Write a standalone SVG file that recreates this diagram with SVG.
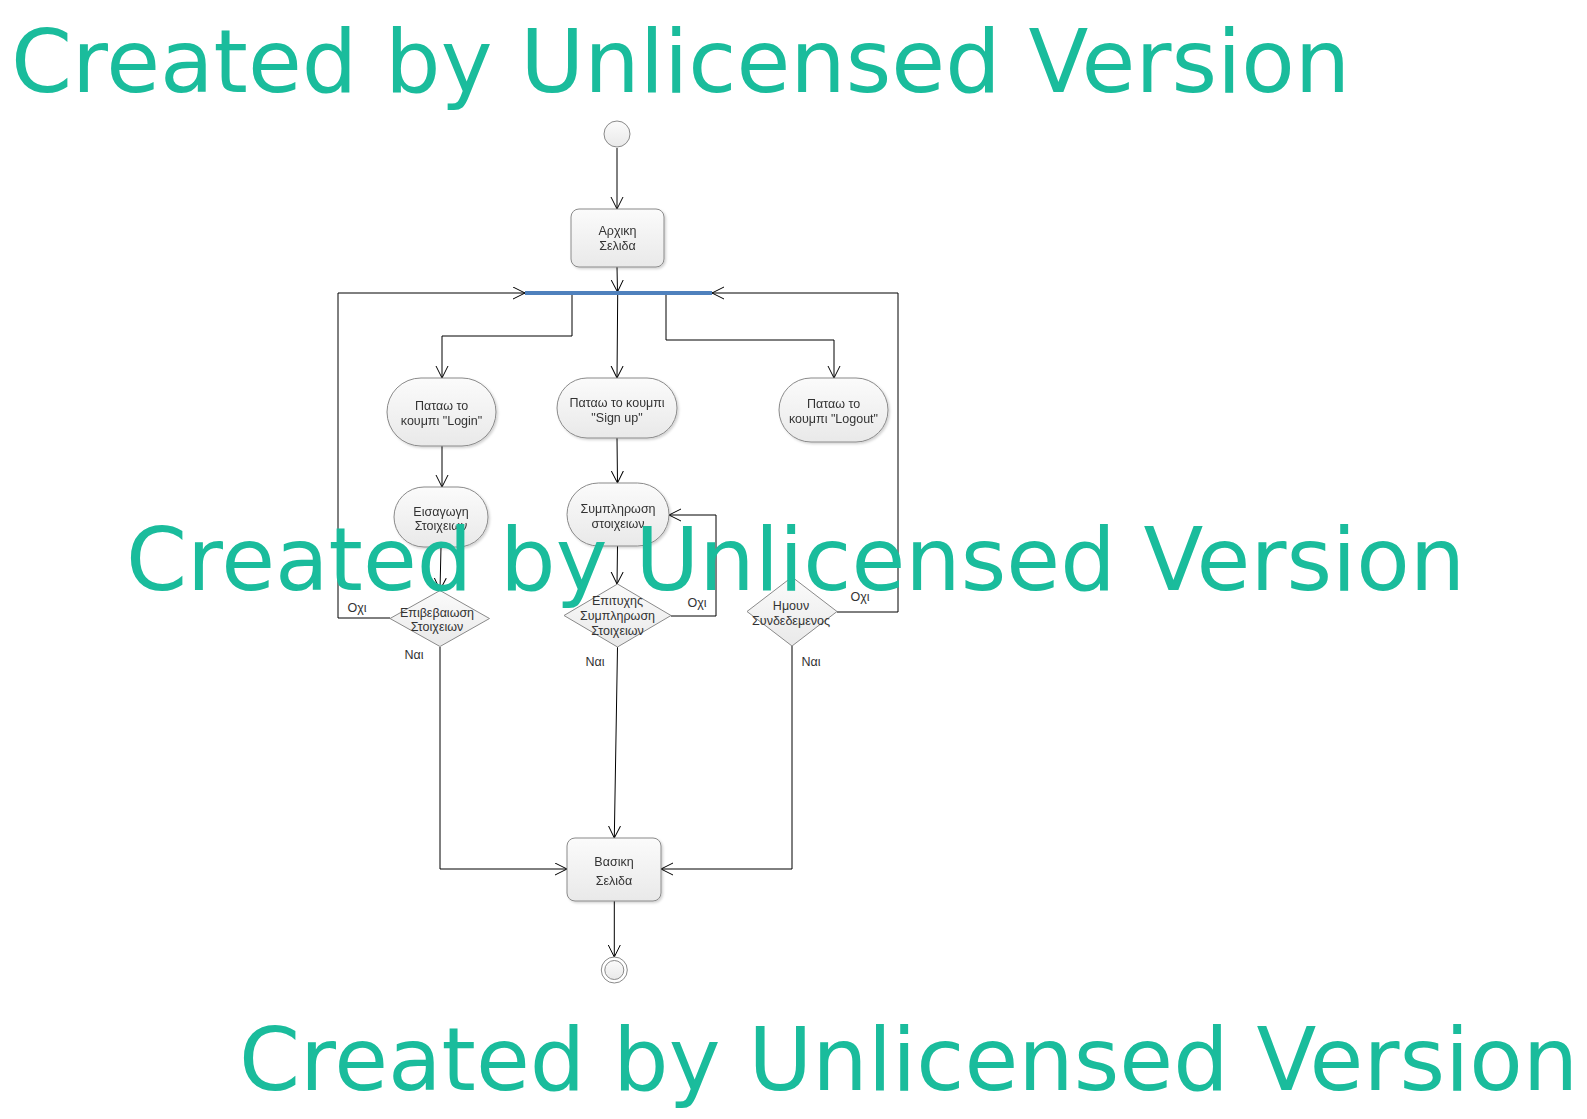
<svg xmlns="http://www.w3.org/2000/svg" width="1587" height="1119" viewBox="0 0 1587 1119">
<style>
.shape{stroke:#8a8a8a;stroke-width:1;fill:url(#g)}
.t{font-family:"Liberation Sans",Arial,sans-serif;font-size:12.5px;fill:#333;text-anchor:middle;dominant-baseline:central}
.lbl{font-family:"Liberation Sans",Arial,sans-serif;font-size:12.5px;fill:#333;text-anchor:middle;dominant-baseline:central}
.c{fill:none;stroke:#000;stroke-width:1;marker-end:url(#arr)}
.wm{font-family:"DejaVu Sans",sans-serif;font-size:87.5px;fill:#1ABC9C}
</style>
<defs>
<linearGradient id="g" x1="0" y1="0" x2="0" y2="1">
<stop offset="0" stop-color="#fbfbfb"/>
<stop offset="1" stop-color="#e9e9e9"/>
</linearGradient>
<filter id="sh" x="-10%" y="-10%" width="130%" height="130%">
<feDropShadow dx="1.5" dy="1.5" stdDeviation="1" flood-color="#000" flood-opacity="0.18"/>
</filter>
<marker id="arr" markerWidth="14" markerHeight="14" refX="12" refY="6.5" orient="auto" markerUnits="userSpaceOnUse">
<path d="M0,0.5 L12,6.5 L0,12.5" fill="none" stroke="#000" stroke-width="1"/>
</marker>
</defs>

<g id="connectors">
<path class="c" d="M617,148 L617,209"/>
<path class="c" d="M617,267 L617.5,292"/>
<path class="c" d="M572,295 L572,336 L442,336 L442,378"/>
<path class="c" d="M617.7,295 L617,378"/>
<path class="c" d="M666,295 L666,340 L834,340 L834,378"/>
<path class="c" d="M442,446 L442,487"/>
<path class="c" d="M441,547 L440,590"/>
<path class="c" d="M390,618 L338,618 L338,293 L525,293"/>
<path class="c" d="M440,647 L440,869 L567,869"/>
<path class="c" d="M617,438 L617.5,483"/>
<path class="c" d="M617.5,546 L617,584"/>
<path class="c" d="M671,616 L716,616 L716,515 L669,515"/>
<path class="c" d="M617.5,647 L614.3,838"/>
<path class="c" d="M837,612 L898,612 L898,293 L712,293"/>
<path class="c" d="M792,646 L792,869 L661,869"/>
<path class="c" d="M614.3,901 L614.3,957"/>
</g>

<g id="start"><circle cx="617" cy="134" r="13" class="shape"/></g>

<g id="arxiki" filter="url(#sh)">
<rect x="571" y="209" width="93" height="58" rx="8" class="shape"/>
<text class="t" x="617.5" y="231">Αρχικη</text>
<text class="t" x="617.5" y="246">Σελιδα</text>
</g>

<g id="fork"><rect x="525" y="291" width="187" height="4" fill="#4F81BD"/></g>

<g id="login" filter="url(#sh)">
<rect x="387" y="378" width="109" height="68" rx="34" ry="34" class="shape"/>
<text class="t" x="441.5" y="406">Παταω το</text>
<text class="t" x="441.5" y="421">κουμπι "Login"</text>
</g>

<g id="signup" filter="url(#sh)">
<rect x="557" y="378" width="120" height="60" rx="30" ry="30" class="shape"/>
<text class="t" x="617" y="402.5">Παταω το κουμπι</text>
<text class="t" x="617" y="417.5">"Sign up"</text>
</g>

<g id="logout" filter="url(#sh)">
<rect x="779" y="378" width="109" height="64" rx="32" ry="32" class="shape"/>
<text class="t" x="833.5" y="404">Παταω το</text>
<text class="t" x="833.5" y="419">κουμπι "Logout"</text>
</g>

<g id="eisagogi" filter="url(#sh)">
<rect x="394" y="487" width="94" height="60" rx="30" ry="30" class="shape"/>
<text class="t" x="441" y="512">Εισαγωγη</text>
<text class="t" x="441" y="526">Στοιχειων</text>
</g>

<g id="symplirosi" filter="url(#sh)">
<rect x="567" y="483" width="102" height="63" rx="31.5" ry="31.5" class="shape"/>
<text class="t" x="618" y="509">Συμπληρωση</text>
<text class="t" x="618" y="524">στοιχειων</text>
</g>

<g id="epivevaiosi">
<polygon points="440,590.5 489.5,618.5 440,646.5 390,618.5" class="shape"/>
<text class="t" x="437" y="612.5">Επιβεβαιωση</text>
<text class="t" x="437" y="626.5">Στοιχειων</text>
</g>

<g id="epityxis">
<polygon points="617.5,584 671,615.5 617.5,647 564,615.5" class="shape"/>
<text class="t" x="617.5" y="601">Επιτυχης</text>
<text class="t" x="617.5" y="615.5">Συμπληρωση</text>
<text class="t" x="617.5" y="630.5">Στοιχειων</text>
</g>

<g id="imoun">
<polygon points="792,577 837,611.5 792,646 747,611.5" class="shape"/>
<text class="t" x="791" y="605.5">Ημουν</text>
<text class="t" x="791" y="621">Συνδεδεμενος</text>
</g>

<g id="vasiki" filter="url(#sh)">
<rect x="567" y="838" width="94" height="63" rx="8" class="shape"/>
<text class="t" x="614" y="861.5">Βασικη</text>
<text class="t" x="614" y="881">Σελιδα</text>
</g>

<g id="end">
<circle cx="614.3" cy="970" r="13" fill="#fff" stroke="#8a8a8a"/>
<circle cx="614.3" cy="970" r="9.5" class="shape"/>
</g>

<g id="labels">
<text class="lbl" x="357" y="608">Οχι</text>
<text class="lbl" x="414" y="655">Ναι</text>
<text class="lbl" x="697" y="603">Οχι</text>
<text class="lbl" x="595" y="662">Ναι</text>
<text class="lbl" x="860" y="597">Οχι</text>
<text class="lbl" x="811" y="662">Ναι</text>
</g>

<g id="watermarks">
<text class="wm" x="11" y="92">Created by Unlicensed Version</text>
<text class="wm" x="126" y="590">Created by Unlicensed Version</text>
<text class="wm" x="239" y="1090">Created by Unlicensed Version</text>
</g>
</svg>
